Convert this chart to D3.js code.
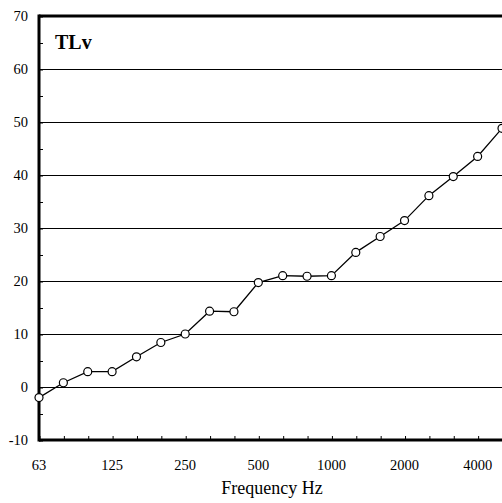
<!DOCTYPE html>
<html lang="en">
<head>
    <meta charset="UTF-8">
    <title>TLv</title>
    <script src="https://d3js.org/d3.v7.min.js"></script>
    <style>
        body { margin: 0; background: #fff; }
        svg text { font-family: "Liberation Serif", "Times New Roman", serif; fill: #000; }
    </style>
</head>
<body>
<svg width="502" height="503"></svg>
<script>
    // one-third octave bands and measured TLv values
    const freqs = ["63", "80", "100", "125", "160", "200", "250", "315", "400", "500",
        "630", "800", "1000", "1250", "1600", "2000", "2500", "3150", "4000", "5000"];
    const tlv = [-2.0, 0.8, 2.9, 2.9, 5.7, 8.4, 10.0, 14.3, 14.2, 19.7,
        21.0, 20.9, 21.0, 25.4, 28.4, 31.4, 36.1, 39.7, 43.5, 48.8];
    const xLabels = ["63", "125", "250", "500", "1000", "2000", "4000"];
    const yTicks = [-10, 0, 10, 20, 30, 40, 50, 60, 70];

    const svg = d3.select("svg");
    const plotL = 39, plotR = 502, plotT = 16, plotB = 440;

    let x = d3.scalePoint().domain(freqs).range([plotL, plotR]);
    let y = d3.scaleLinear().domain([-10, 70]).range([plotB, plotT]);

    // grid lines
    svg.append("g").selectAll("line")
        .data(yTicks.filter(d => d > -10 && d < 70))
        .enter().append("line")
        .attr("x1", plotL).attr("x2", plotR)
        .attr("y1", d => y(d) + 0.5).attr("y2", d => y(d) + 0.5)
        .attr("stroke", "#000").attr("stroke-width", 1);

    // y axis, ticks every 5 pointing inward
    let yAxis = d3.axisRight(y).tickValues(d3.range(-10, 71, 5)).tickSize(4).tickFormat("");
    svg.append("g").attr("transform", `translate(${plotL},0.5)`).call(yAxis)
        .call(g => g.select(".domain").remove())
        .selectAll("line").attr("stroke", "#000");

    svg.append("g").selectAll("text")
        .data(yTicks)
        .enter().append("text")
        .attr("x", 28).attr("y", d => y(d) + 5)
        .attr("text-anchor", "end")
        .attr("font-size", "14.5px")
        .text(d => d);

    // x axis ticks pointing inward
    let xAxis = d3.axisTop(x).tickSize(4).tickFormat("");
    svg.append("g").attr("transform", `translate(0.5,${plotB})`).call(xAxis)
        .call(g => g.select(".domain").remove())
        .selectAll("line").attr("stroke", "#000");

    svg.append("g").selectAll("text")
        .data(xLabels)
        .enter().append("text")
        .attr("x", d => x(d)).attr("y", 470)
        .attr("text-anchor", "middle")
        .attr("font-size", "14.5px")
        .text(d => d);

    // frame
    svg.append("line").attr("x1", plotL).attr("x2", plotL).attr("y1", plotT - 1.5).attr("y2", plotB + 1.5)
        .attr("stroke", "#000").attr("stroke-width", 3);
    svg.append("line").attr("x1", plotL).attr("x2", plotR).attr("y1", plotB).attr("y2", plotB)
        .attr("stroke", "#000").attr("stroke-width", 3);
    svg.append("line").attr("x1", plotL).attr("x2", plotR).attr("y1", plotT).attr("y2", plotT)
        .attr("stroke", "#000").attr("stroke-width", 3);

    // series
    let line = d3.line().x((d, i) => x(freqs[i])).y(d => y(d));
    svg.append("path").datum(tlv)
        .attr("d", line)
        .attr("fill", "none").attr("stroke", "#000").attr("stroke-width", 1.3);

    svg.append("g").selectAll("circle")
        .data(tlv)
        .enter().append("circle")
        .attr("cx", (d, i) => x(freqs[i])).attr("cy", d => y(d))
        .attr("r", 4)
        .attr("fill", "#fff").attr("stroke", "#000").attr("stroke-width", 1.2);

    svg.append("text").attr("x", 55).attr("y", 49)
        .attr("font-size", "20px").attr("font-weight", "bold")
        .text("TLv");

    svg.append("text").attr("x", 272).attr("y", 494)
        .attr("text-anchor", "middle")
        .attr("font-size", "18px")
        .text("Frequency Hz");
</script>
</body>
</html>
